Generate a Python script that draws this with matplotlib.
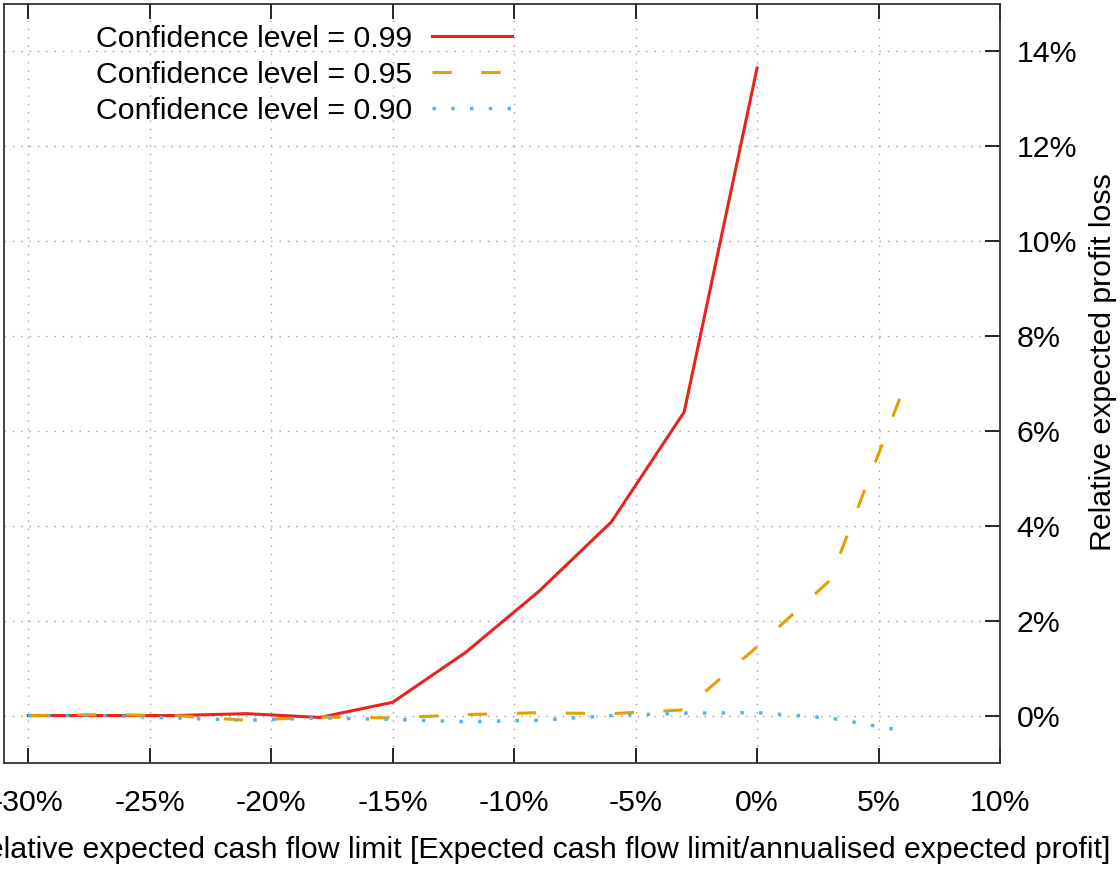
import matplotlib
matplotlib.use("Agg")
import matplotlib.pyplot as plt
from matplotlib.ticker import FuncFormatter

x_limit = [-30, -27, -24, -21, -18, -15, -12, -9, -6, -3, 0, 3, 6]
loss_099 = [0.0, 0.0, 0.0, 0.04, -0.04, 0.28, 1.33, 2.61, 4.08, 6.4, 13.65]
loss_095 = [0.0, 0.02, 0.0, -0.1, -0.03, -0.05, 0.02, 0.06, 0.04, 0.12, 1.45, 2.85, 6.85]
loss_090 = [0.0, 0.0, -0.05, -0.1, -0.05, -0.08, -0.13, -0.1, 0.0, 0.05, 0.06, -0.05, -0.32]
labels = ["Confidence level = 0.99", "Confidence level = 0.95", "Confidence level = 0.90"]
x_ticks = [-30, -25, -20, -15, -10, -5, 0, 5, 10]
y_ticks = [0, 2, 4, 6, 8, 10, 12, 14]

W, H = 1120, 871
plt.rcParams['font.family'] = ['Liberation Sans', 'DejaVu Sans']
fs = 21.8

fig = plt.figure(figsize=(W / 100, H / 100), dpi=100)
L, R, T, B = 4, 1000, 4, 763
ax = fig.add_axes([L / W, 1 - B / H, (R - L) / W, (B - T) / H])

lw = 2.2
ax.plot(x_limit[:len(loss_099)], loss_099, color='#e8231c', lw=lw, label=labels[0], zorder=3)
l2, = ax.plot(x_limit, loss_095, color='#e69f00', lw=lw, label=labels[1], zorder=3)
l2.set_dashes((6.3, 9.7))
l3, = ax.plot(x_limit, loss_090, color='#56b4e9', lw=2.5, label=labels[2], zorder=3)
l3.set_dashes((1, 4.4))

ax.set_xlim(-31, 10)
ax.set_ylim(-1, 15)
ax.set_xticks(x_ticks)
ax.set_yticks(y_ticks)
ax.xaxis.set_major_formatter(FuncFormatter(lambda v, p: f"{int(v)}%"))
ax.yaxis.set_major_formatter(FuncFormatter(lambda v, p: f"{int(v)}%"))
ax.yaxis.tick_right()
ax.tick_params(axis='x', which='both', direction='in', top=True, bottom=True,
               length=11, width=1.2, labelsize=fs, pad=19, colors='black')
ax.tick_params(axis='y', which='both', direction='in', left=False, right=True,
               length=11, width=1.2, labelsize=fs, pad=12, colors='black')
for s in ax.spines.values():
    s.set_color('#333333')
    s.set_linewidth(1.3)
ax.grid(True, linestyle=(0, (1, 5)), color='#a0a0a0', linewidth=1.0)

leg = ax.legend(loc='upper left', bbox_to_anchor=(92 / (R - L), 1 - (25 - T) / (B - T)),
                frameon=False, fontsize=fs, markerfirst=False, handlelength=2.65,
                handletextpad=0.65, labelspacing=0.26, borderaxespad=0, borderpad=0)

fig.text(1103 / W, 1 - 362 / H, "Relative expected profit loss", rotation=90,
         ha='center', va='center', fontsize=fs)
fig.text(1110 / W, 1 - 850 / H,
         "Relative expected cash flow limit [Expected cash flow limit/annualised expected profit]",
         ha='right', va='center', fontsize=fs)

fig.savefig("out.png", dpi=100)
